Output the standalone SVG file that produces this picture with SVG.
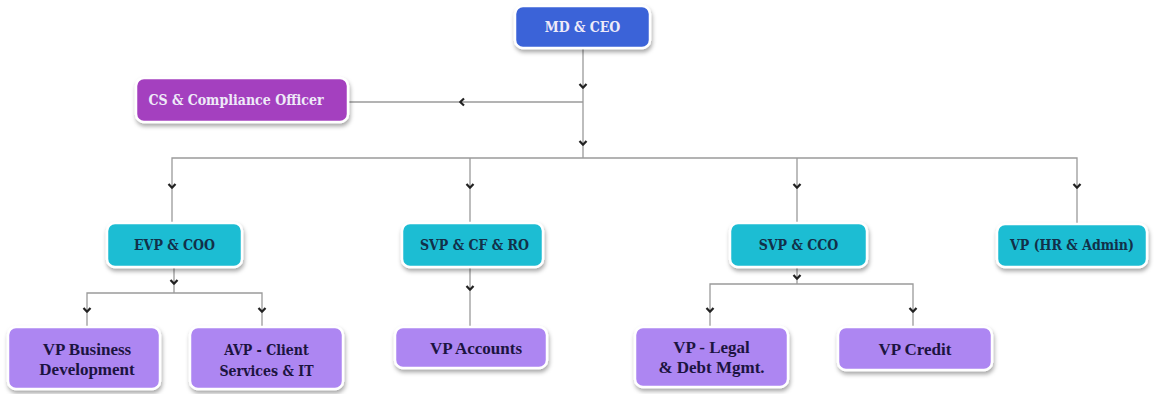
<svg xmlns="http://www.w3.org/2000/svg" width="1157" height="394" viewBox="0 0 1157 394">
  <defs>
    <filter id="shadow" x="-10%" y="-20%" width="125%" height="150%">
      <feDropShadow dx="1" dy="3" stdDeviation="2" flood-color="#000" flood-opacity="0.35"/>
    </filter>
    <path id="chev" d="M-3.5,-2 L0,1.8 L3.5,-2" fill="none" stroke="#222" stroke-width="2.2" stroke-linejoin="round"/>
  </defs>
  <style>
    .box { stroke: #ffffff; stroke-width: 2.5; filter: url(#shadow); }
    .blue { fill: #3b63d8; }
    .magenta { fill: #a43fbf; }
    .cyan { fill: #1fbdd3; }
    .lav { fill: #ad86f2; }
    .slab { font-family: "DejaVu Serif Condensed", "DejaVu Serif", serif; font-weight: bold; font-size: 14px; text-anchor: middle; }
    .times { font-family: "Liberation Serif", serif; font-weight: bold; font-size: 17px; text-anchor: middle; fill: #1c1440; }
    .light { fill: #eeeaf8; }
    .dark { fill: #123049; }
    .wire { fill: none; stroke: #9a9a9a; stroke-width: 1.3; }
  </style>
  <rect width="1157" height="394" fill="#ffffff"/>

  <g id="connectors">
    <path class="wire" d="M583,48 V158"/>
    <path class="wire" d="M583,102 H348"/>
    <path class="wire" d="M172,223 V158 H1077 V224"/>
    <path class="wire" d="M470,158 V223"/>
    <path class="wire" d="M797,158 V223"/>
    <!-- EVP & COO branch -->
    <path class="wire" d="M174,267 V293"/>
    <path class="wire" d="M87,327 V293 H262 V327"/>
    <!-- SVP & CF & RO branch -->
    <path class="wire" d="M470,267 V327"/>
    <!-- SVP & CCO branch -->
    <path class="wire" d="M797,267 V284"/>
    <path class="wire" d="M710,327 V284 H913 V327"/>
    <!-- chevrons -->
    <use href="#chev" x="583" y="86"/>
    <use href="#chev" x="583" y="143"/>
    <use href="#chev" transform="translate(462,102) rotate(90)"/>
    <use href="#chev" x="172" y="186"/>
    <use href="#chev" x="470" y="186"/>
    <use href="#chev" x="797" y="186"/>
    <use href="#chev" x="1077" y="186"/>
    <use href="#chev" x="174" y="282"/>
    <use href="#chev" x="87" y="310"/>
    <use href="#chev" x="262" y="310"/>
    <use href="#chev" x="470" y="288"/>
    <use href="#chev" x="797" y="277"/>
    <use href="#chev" x="710" y="310"/>
    <use href="#chev" x="913" y="310"/>
  </g>

  <g id="md-ceo">
    <rect class="box blue" x="515" y="6" width="135" height="42" rx="8"/>
    <text class="slab light" x="582.5" y="32">MD &amp; CEO</text>
  </g>
  <g id="cs-compliance">
    <rect class="box magenta" x="136" y="78" width="212" height="44" rx="8"/>
    <text class="slab light" x="236" y="105" font-size="15.5">CS &amp; Compliance Officer</text>
  </g>

  <g id="evp-coo">
    <rect class="box cyan" x="107" y="223" width="135" height="44" rx="8"/>
    <text class="slab dark" x="174.5" y="250">EVP &amp; COO</text>
  </g>
  <g id="svp-cf-ro">
    <rect class="box cyan" x="402" y="223" width="141" height="44" rx="8"/>
    <text class="slab dark" x="474.5" y="250">SVP &amp; CF &amp; RO</text>
  </g>
  <g id="svp-cco">
    <rect class="box cyan" x="730" y="223" width="137" height="44" rx="8"/>
    <text class="slab dark" x="798.5" y="250">SVP &amp; CCO</text>
  </g>
  <g id="vp-hr-admin">
    <rect class="box cyan" x="997" y="224" width="150" height="43" rx="8"/>
    <text class="slab dark" x="1072" y="250">VP (HR &amp; Admin)</text>
  </g>

  <g id="vp-business-development">
    <rect class="box lav" x="8" y="327" width="152" height="62" rx="8"/>
    <text class="times" x="87" y="355">VP Business</text>
    <text class="times" x="87" y="375">Development</text>
  </g>
  <g id="avp-client-services">
    <rect class="box lav" x="190" y="327" width="153" height="62" rx="8"/>
    <text class="slab dark" x="266.5" y="355" font-size="15.5" style="fill:#1c1440">AVP - Client</text>
    <text class="slab dark" x="266.5" y="376" font-size="15.5" style="fill:#1c1440">Services &amp; IT</text>
  </g>
  <g id="vp-accounts">
    <rect class="box lav" x="395" y="327" width="152" height="41" rx="8"/>
    <text class="times" x="476" y="354">VP Accounts</text>
  </g>
  <g id="vp-legal-debt">
    <rect class="box lav" x="635" y="327" width="153" height="60" rx="8"/>
    <text class="times" x="711.5" y="353">VP - Legal</text>
    <text class="times" x="711.5" y="373">&amp; Debt Mgmt.</text>
  </g>
  <g id="vp-credit">
    <rect class="box lav" x="838" y="327" width="154" height="43" rx="8"/>
    <text class="times" x="915" y="355">VP Credit</text>
  </g>
</svg>
